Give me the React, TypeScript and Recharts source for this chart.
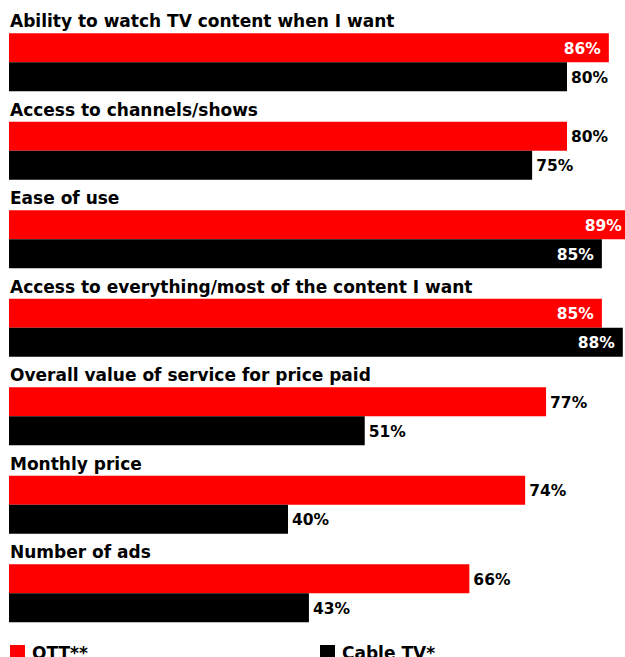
import React from "react";
import { BarChart, Bar, XAxis, YAxis, LabelList } from "recharts";

const categories = [
  "Ability to watch TV content when I want",
  "Access to channels/shows",
  "Ease of use",
  "Access to everything/most of the content I want",
  "Overall value of service for price paid",
  "Monthly price",
  "Number of ads",
];
const ottValues = [86, 80, 89, 85, 77, 74, 66];
const cableValues = [80, 75, 85, 88, 51, 40, 43];
const seriesNames = ["OTT**", "Cable TV*"];
const colors = ["#ff0000", "#000000"];

const data = categories.map((name, i) => ({
  name,
  ott: ottValues[i],
  cable: cableValues[i],
}));

const FONT = "'DejaVu Sans', Verdana, sans-serif";
const INSIDE_THRESHOLD = 82;

const CategoryLabel = (props: any) => {
  const { x, y, value } = props;
  return (
    <text
      x={x + 1}
      y={y - 6}
      textAnchor="start"
      fontFamily={FONT}
      fontWeight={700}
      fontSize={17}
      fill="#000"
    >
      {value}
    </text>
  );
};

const ValueLabel = (props: any) => {
  const { x, y, width, height, value } = props;
  const inside = value > INSIDE_THRESHOLD;
  return (
    <text
      x={inside ? x + width - 8 : x + width + 4}
      y={y + height / 2 + 1}
      textAnchor={inside ? "end" : "start"}
      dominantBaseline="central"
      fontFamily={FONT}
      fontWeight={700}
      fontSize={15.5}
      fill={inside ? "#fff" : "#000"}
    >
      {value}%
    </text>
  );
};

export default function App() {
  return (
    <div
      style={{
        position: "fixed",
        left: 0,
        top: 0,
        width: 625,
        height: 657,
        overflow: "hidden",
        background: "#fff",
      }}
    >
      <div style={{ position: "absolute", left: 8, top: 8 }}>
        <BarChart
          width={698.5}
          height={680}
          data={data}
          layout="vertical"
          margin={{ top: 10.25, right: 0, bottom: 50.25, left: 1 }}
          barSize={29}
          barGap={0}
        >
          <XAxis type="number" domain={[0, 100]} hide />
          <YAxis type="category" dataKey="name" hide />
          <Bar dataKey="ott" fill={colors[0]} isAnimationActive={false}>
            <LabelList dataKey="name" content={<CategoryLabel />} />
            <LabelList dataKey="ott" content={<ValueLabel />} />
          </Bar>
          <Bar dataKey="cable" fill={colors[1]} isAnimationActive={false}>
            <LabelList dataKey="cable" content={<ValueLabel />} />
          </Bar>
        </BarChart>
      </div>
      <div
        style={{
          position: "absolute",
          top: 643,
          left: 0,
          width: 625,
          fontFamily: FONT,
          fontWeight: 700,
          fontSize: 17,
        }}
      >
        {seriesNames.map((n, i) => (
          <div
            key={n}
            style={{
              position: "absolute",
              left: i === 0 ? 10 : 320,
              top: 0,
              display: "flex",
              alignItems: "flex-start",
              whiteSpace: "nowrap",
              lineHeight: "20px",
            }}
          >
            <span
              style={{
                display: "inline-block",
                width: 15,
                height: 15,
                marginTop: 2,
                background: colors[i],
                marginRight: 7,
              }}
            />
            {n}
          </div>
        ))}
      </div>
    </div>
  );
}
